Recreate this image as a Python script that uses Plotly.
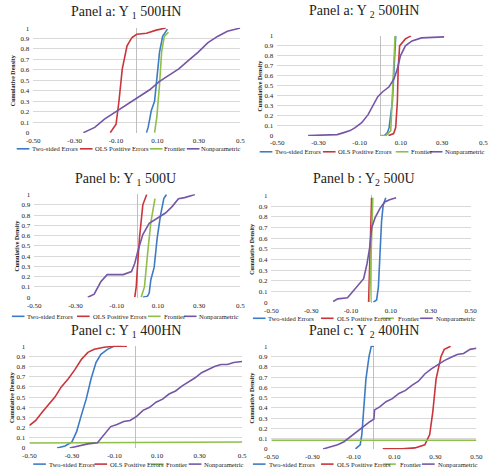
import plotly.graph_objects as go

W, H = 500, 475
SERIES_NAMES = ["Two-sided Errors", "OLS Positive Errors", "Frontier", "Nonparametric"]
COLORS = ["#3D7CC4", "#C9353B", "#8DBF4A", "#7556A6"]
X_TICKS = [-0.5, -0.3, -0.1, 0.1, 0.3, 0.5]
Y_TICKS = [0, 0.1, 0.2, 0.3, 0.4, 0.5, 0.6, 0.7, 0.8, 0.9, 1.0]
Y_TICKTEXT = ["0", "0.1", "0.2", "0.3", "0.4", "0.5", "0.6", "0.7", "0.8", "0.9", "1"]
X_TICKTEXT_A = ["-0.50", "-0.30", "-0.10", "0.10", "0.30", "0.5"]
X_TICKTEXT_B = ["-0.50", "-0.30", "-0.10", "0.10", "0.30", "0.50"]

# ---- Panel a: Y1 500HN ----
a1_two_x = [0.047, 0.055, 0.0625, 0.07, 0.086, 0.094, 0.11, 0.125, 0.148]
a1_two_y = [0.0, 0.05, 0.13, 0.21, 0.30, 0.46, 0.77, 0.92, 0.99]
a1_ols_x = [-0.128, -0.10, -0.086, -0.07, -0.047, -0.023, 0.0, 0.047, 0.094, 0.14]
a1_ols_y = [0.0, 0.08, 0.30, 0.61, 0.83, 0.91, 0.94, 0.95, 0.98, 1.0]
a1_fr_x = [0.086, 0.097, 0.11, 0.12, 0.133, 0.153]
a1_fr_y = [0.0, 0.15, 0.46, 0.77, 0.92, 0.96]
a1_np_x = [-0.258, -0.203, -0.156, -0.11, -0.07, -0.031, 0.016, 0.0625, 0.11, 0.156,
           0.203, 0.25, 0.297, 0.344, 0.39, 0.4375, 0.5]
a1_np_y = [0.0, 0.05, 0.13, 0.19, 0.24, 0.29, 0.35, 0.41, 0.49, 0.55,
           0.61, 0.69, 0.77, 0.86, 0.92, 0.97, 1.0]

# ---- Panel a: Y2 500HN ----
a2_two_x = [0.02, 0.035, 0.043, 0.052, 0.059, 0.067, 0.075]
a2_two_y = [0.0, 0.03, 0.08, 0.2, 0.34, 0.67, 1.0]
a2_ols_x = [0.04, 0.065, 0.075, 0.083, 0.087, 0.094, 0.122, 0.149]
a2_ols_y = [0.0, 0.02, 0.08, 0.34, 0.67, 0.9, 0.97, 1.0]
a2_fr_x = [0.0, 0.028, 0.051, 0.058, 0.064, 0.072]
a2_fr_y = [0.0, 0.0, 0.05, 0.34, 0.67, 1.0]
a2_np_x = [-0.35, -0.209, -0.177, -0.146, -0.122, -0.09, -0.059, -0.035, -0.012, 0.012,
           0.043, 0.067, 0.083, 0.098, 0.122, 0.154, 0.2, 0.31]
a2_np_y = [0.0, 0.01, 0.03, 0.05, 0.08, 0.13, 0.21, 0.31, 0.39, 0.44,
           0.49, 0.57, 0.67, 0.8, 0.9, 0.95, 0.98, 0.99]

# ---- Panel b: Y1 500U ----
b1_two_x = [0.027, 0.05, 0.058, 0.066, 0.082, 0.097, 0.113, 0.129, 0.142]
b1_two_y = [0.0, 0.01, 0.04, 0.17, 0.29, 0.58, 0.8, 0.96, 1.0]
b1_ols_x = [-0.012, -0.005, 0.0, 0.011, 0.027, 0.046]
b1_ols_y = [0.0, 0.1, 0.26, 0.58, 0.9, 1.0]
b1_fr_x = [0.019, 0.035, 0.05, 0.066, 0.086]
b1_fr_y = [0.0, 0.1, 0.42, 0.73, 0.96]
b1_np_x = [-0.24, -0.209, -0.177, -0.146, -0.115, -0.068, -0.028, -0.012, 0.003, 0.027,
           0.058, 0.105, 0.137, 0.168, 0.2, 0.23, 0.26, 0.28]
b1_np_y = [0.0, 0.03, 0.15, 0.22, 0.22, 0.22, 0.25, 0.33, 0.45, 0.61,
           0.72, 0.78, 0.82, 0.88, 0.96, 0.97, 0.99, 1.0]

# ---- Panel b: Y2 500U ----
b2_two_x = [0.012, 0.028, 0.037, 0.045, 0.053, 0.061, 0.074]
b2_two_y = [0.0, 0.02, 0.14, 0.45, 0.76, 0.91, 0.98]
b2_ols_x = [-0.012, -0.007, -0.002, 0.003]
b2_ols_y = [0.0, 0.3, 0.7, 0.98]
b2_fr_x = [-0.007, -0.002, 0.004, 0.009]
b2_fr_y = [0.0, 0.33, 0.66, 0.98]
b2_np_x = [-0.19, -0.167, -0.118, -0.085, -0.061, -0.037, -0.02, -0.007, 0.004, 0.02,
           0.045, 0.069, 0.093, 0.126]
b2_np_y = [0.006, 0.03, 0.04, 0.11, 0.17, 0.22, 0.36, 0.51, 0.7, 0.79,
           0.88, 0.94, 0.96, 0.98]

# ---- Panel c: Y1 400HN ----
c1_two_x = [-0.37, -0.332, -0.3, -0.278, -0.256, -0.233, -0.21, -0.187, -0.164, -0.133, -0.103, -0.065]
c1_two_y = [0.0, 0.02, 0.06, 0.16, 0.32, 0.48, 0.68, 0.84, 0.92, 0.97, 1.0, 1.0]
c1_ols_x = [-0.5, -0.47, -0.44, -0.41, -0.38, -0.35, -0.317, -0.286, -0.256, -0.225,
            -0.195, -0.149, -0.103, -0.042]
c1_ols_y = [0.22, 0.27, 0.35, 0.42, 0.5, 0.6, 0.68, 0.77, 0.87, 0.94,
            0.97, 0.99, 1.0, 1.0]
c1_fr_x = [-0.5, 0.0, 0.5]
c1_fr_y = [0.048, 0.05, 0.058]
c1_np_x = [-0.31, -0.27, -0.225, -0.18, -0.149, -0.118, -0.088, -0.057, -0.027, 0.004,
           0.034, 0.065, 0.095, 0.126, 0.156, 0.187, 0.218, 0.248, 0.279, 0.309,
           0.34, 0.37, 0.4, 0.43, 0.46, 0.5]
c1_np_y = [0.0, 0.016, 0.04, 0.05, 0.13, 0.21, 0.23, 0.26, 0.27, 0.31,
           0.37, 0.4, 0.45, 0.48, 0.53, 0.56, 0.61, 0.65, 0.69, 0.74,
           0.77, 0.8, 0.82, 0.82, 0.84, 0.85]

# ---- Panel c: Y2 400HN ----
c2_two_x = [-0.09, -0.067, -0.059, -0.051, -0.039, -0.024, -0.013, 0.0]
c2_two_y = [0.0, 0.04, 0.14, 0.36, 0.68, 0.9, 1.0, 1.0]
c2_ols_x = [0.043, 0.138, 0.2, 0.248, 0.272, 0.287, 0.303, 0.327, 0.343, 0.374]
c2_ols_y = [0.0, 0.0, 0.01, 0.04, 0.14, 0.36, 0.68, 0.9, 0.97, 1.0]
c2_fr_x = [-0.5, 0.5]
c2_fr_y = [0.085, 0.085]
c2_np_x = [-0.248, -0.209, -0.177, -0.146, -0.114, -0.083, -0.051, -0.02, 0.0, 0.003,
           0.028, 0.059, 0.09, 0.122, 0.154, 0.185, 0.217, 0.248, 0.28, 0.311,
           0.343, 0.374, 0.406, 0.437, 0.469, 0.5]
c2_np_y = [0.0, 0.026, 0.04, 0.07, 0.12, 0.17, 0.22, 0.265, 0.29, 0.38,
           0.41, 0.46, 0.49, 0.54, 0.57, 0.62, 0.66, 0.73, 0.78, 0.82,
           0.86, 0.89, 0.92, 0.93, 0.97, 0.98]

PANEL_DATA = [
    [(a1_two_x, a1_two_y), (a1_ols_x, a1_ols_y), (a1_fr_x, a1_fr_y), (a1_np_x, a1_np_y)],
    [(a2_two_x, a2_two_y), (a2_ols_x, a2_ols_y), (a2_fr_x, a2_fr_y), (a2_np_x, a2_np_y)],
    [(b1_two_x, b1_two_y), (b1_ols_x, b1_ols_y), (b1_fr_x, b1_fr_y), (b1_np_x, b1_np_y)],
    [(b2_two_x, b2_two_y), (b2_ols_x, b2_ols_y), (b2_fr_x, b2_fr_y), (b2_np_x, b2_np_y)],
    [(c1_two_x, c1_two_y), (c1_ols_x, c1_ols_y), (c1_fr_x, c1_fr_y), (c1_np_x, c1_np_y)],
    [(c2_two_x, c2_two_y), (c2_ols_x, c2_ols_y), (c2_fr_x, c2_fr_y), (c2_np_x, c2_np_y)],
]

PANEL_TITLES = [
    "Panel a: Y <sub>1</sub> 500HN",
    "Panel a: Y <sub>2</sub> 500HN",
    "Panel b: Y <sub>1</sub> 500U",
    "Panel b : Y<sub>2</sub> 500U",
    "Panel c: Y <sub>1</sub> 400HN",
    "Panel c: Y <sub>2</sub> 400HN",
]
PANEL_XTICKTEXT = [X_TICKTEXT_A, X_TICKTEXT_A, X_TICKTEXT_A, X_TICKTEXT_B, X_TICKTEXT_A, X_TICKTEXT_B]

# Layout (pixel positions)
LAYOUT = [
    dict(px=(27, 240), py=(25, 132), tx=122, ty=10, ly=148, ll=[10, 75, 147, 185], lt=[25, 90, 161, 199], yl=7, so=2),
    dict(px=(278, 490), py=(33, 135), tx=367, ty=9, ly=151, ll=[260, 325, 400, 435], lt=[275, 340, 415, 450], yl=260, so=1),
    dict(px=(28, 240), py=(194, 299), tx=122, ty=179, ly=318, ll=[5, 72, 145, 182], lt=[20, 87, 160, 197], yl=10, so=2),
    dict(px=(272, 477), py=(195, 304), tx=367, ty=179, ly=320, ll=[253, 323, 385, 425], lt=[268, 338, 401, 440], yl=252, so=2),
    dict(px=(23, 242), py=(348, 452), tx=122, ty=333, ly=468, ll=[27, 90, 148, 187], lt=[42, 105, 163, 202], yl=5, so=2),
    dict(px=(272, 483), py=(348, 453), tx=367, ty=333, ly=468, ll=[253, 323, 387, 427], lt=[269, 338, 403, 442], yl=252, so=2),
]

FONT = "Liberation Serif, Times New Roman, serif"


def fx(p):
    return p / W


def fy(p):
    return 1 - p / H


fig = go.Figure()
shapes = []
annotations = []
layout_axes = {}

for i, (series, lay) in enumerate(zip(PANEL_DATA, LAYOUT)):
    n = i + 1
    xa = "x" if n == 1 else f"x{n}"
    ya = "y" if n == 1 else f"y{n}"
    for k, (xs, ys) in enumerate(series):
        fig.add_trace(go.Scatter(
            x=xs, y=ys, mode="lines", name=SERIES_NAMES[k],
            line=dict(color=COLORS[k], width=1.6),
            xaxis=xa, yaxis=ya, showlegend=False, hoverinfo="skip",
        ))
    xkey = "xaxis" if n == 1 else f"xaxis{n}"
    ykey = "yaxis" if n == 1 else f"yaxis{n}"
    layout_axes[xkey] = dict(
        domain=[fx(lay["px"][0]), fx(lay["px"][1])],
        range=[-0.5, 0.5], anchor=ya,
        tickvals=X_TICKS, ticktext=PANEL_XTICKTEXT[i],
        showgrid=False, zeroline=True, zerolinecolor="#BFBFBF", zerolinewidth=1,
        showline=False, ticks="", ticklen=0, ticklabelstandoff=lay["so"],
        tickfont=dict(family=FONT, size=7, color="#222"),
        fixedrange=True,
    )
    layout_axes[ykey] = dict(
        domain=[fy(lay["py"][1]), fy(lay["py"][0])],
        range=[-0.004, 1.004], anchor=xa,
        tickvals=Y_TICKS, ticktext=Y_TICKTEXT,
        showgrid=True, gridcolor="#D9D9D9", gridwidth=1,
        zeroline=False, showline=False, ticks="", ticklabelstandoff=3,
        tickfont=dict(family=FONT, size=7, color="#222"),
        fixedrange=True,
    )
    # title
    annotations.append(dict(
        text=PANEL_TITLES[i], x=fx(lay["tx"]), y=fy(lay["ty"]),
        xref="paper", yref="paper", xanchor="center", yanchor="middle",
        showarrow=False, font=dict(family=FONT, size=14, color="#222"),
    ))
    # y axis title
    annotations.append(dict(
        text="<b>Cumulative Density</b>", x=fx(lay["yl"]),
        y=fy((lay["py"][0] + lay["py"][1]) / 2),
        xref="paper", yref="paper", xanchor="center", yanchor="middle",
        textangle=-90, showarrow=False, font=dict(family=FONT, size=6, color="#222"),
    ))
    # legend
    for k in range(4):
        x0 = lay["ll"][k]
        shapes.append(dict(
            type="line", xref="paper", yref="paper",
            x0=fx(x0), x1=fx(x0 + 13), y0=fy(lay["ly"]), y1=fy(lay["ly"]),
            line=dict(color=COLORS[k], width=1.6),
        ))
        annotations.append(dict(
            text=SERIES_NAMES[k], x=fx(lay["lt"][k]), y=fy(lay["ly"]),
            xref="paper", yref="paper", xanchor="left", yanchor="middle",
            showarrow=False, borderpad=0,
            font=dict(family=FONT, size=6.6, color="#222"),
        ))

fig.update_layout(
    width=W, height=H, autosize=False,
    margin=dict(l=0, r=0, t=0, b=0),
    paper_bgcolor="white", plot_bgcolor="white",
    showlegend=False,
    shapes=shapes, annotations=annotations,
    **layout_axes,
)

fig.write_html("out.html", config={"displayModeBar": False},
               post_script="document.body.style.margin='0';")
